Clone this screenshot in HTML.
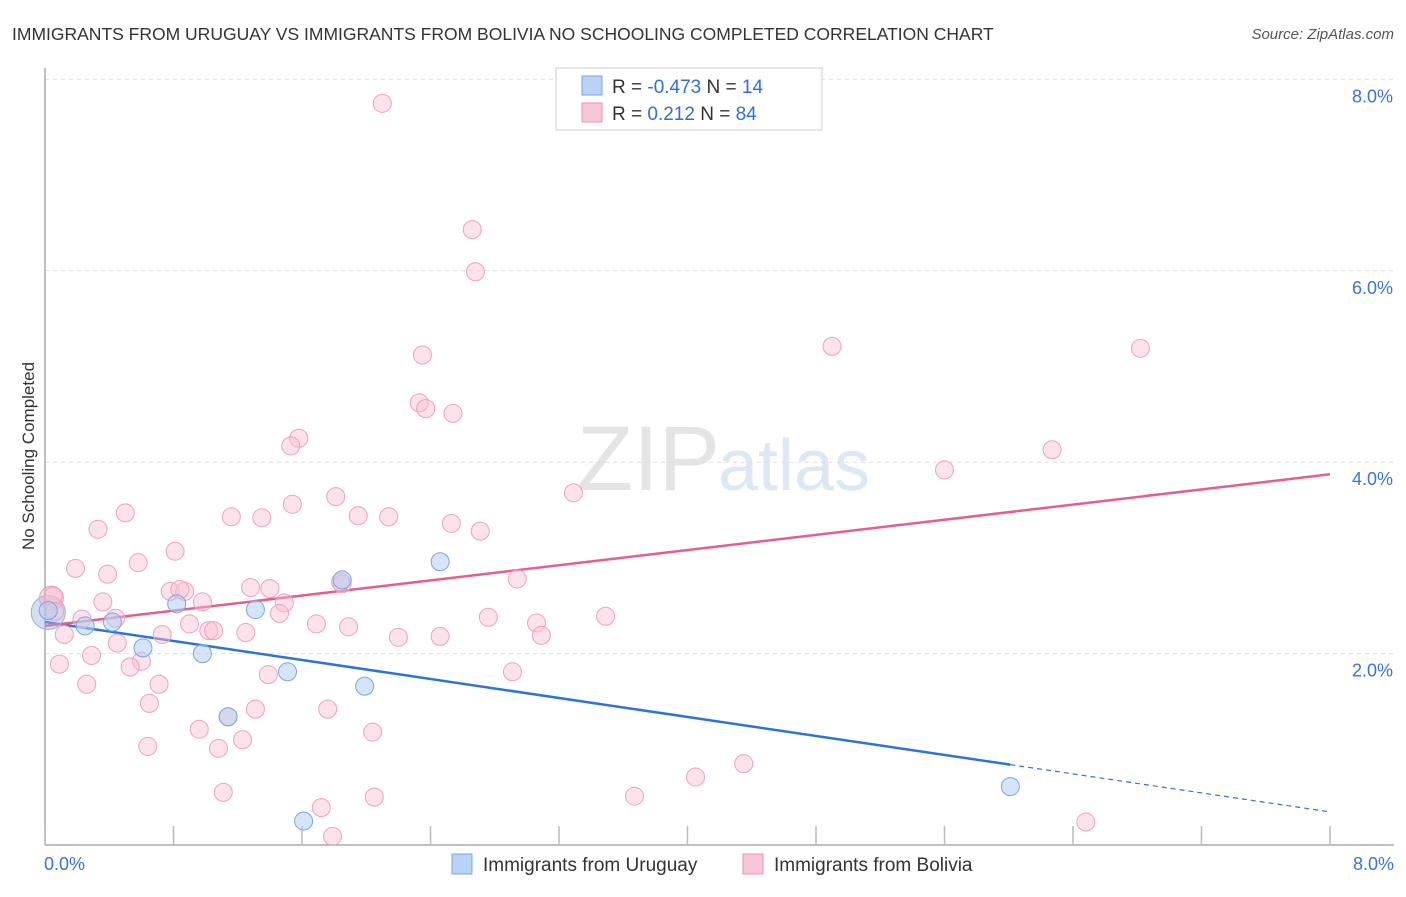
<!DOCTYPE html>
<html><head><meta charset="utf-8"><style>
body{margin:0;background:#fff;font-family:"Liberation Sans",sans-serif;}
svg text{font-family:"Liberation Sans",sans-serif;}
</style></head><body>
<svg width="1406" height="892" xmlns="http://www.w3.org/2000/svg">
<text x="12" y="40" font-size="17.5" fill="#333">IMMIGRANTS FROM URUGUAY VS IMMIGRANTS FROM BOLIVIA NO SCHOOLING COMPLETED CORRELATION CHART</text>
<text x="1394" y="39" font-size="15" fill="#555" font-style="italic" text-anchor="end">Source: ZipAtlas.com</text>
<text x="720" y="490" font-size="92" fill="#e4e4e4" text-anchor="end" font-family="Liberation Serif">ZIP</text>
<text x="718" y="490" font-size="72" fill="#dde8f6">atlas</text>
<g id="grid"></g>
<g id="axes"></g>
<text transform="translate(34,456) rotate(-90)" font-size="17" fill="#333" text-anchor="middle">No Schooling Completed</text>
<g id="lines"></g>
<g id="pts"></g>
<g>
<rect x="556" y="68" width="266" height="62" fill="#fff" stroke="#ccc"/>
<rect x="582" y="76" width="20" height="19" fill="#b9d3f5" stroke="#7aa6e0"/>
<rect x="582" y="103" width="20" height="19" fill="#f8c6d5" stroke="#e993b0"/>
<text x="612" y="93" font-size="19" fill="#333">R = <tspan fill="#2f6fd6">-0.473</tspan>   N = <tspan fill="#2f6fd6"> 14</tspan></text>
<text x="612" y="120" font-size="19" fill="#333">R =   <tspan fill="#2f6fd6">0.212</tspan>   N = <tspan fill="#2f6fd6">84</tspan></text>
</g>
<g>
<rect x="452" y="854" width="20" height="20" fill="#b9d3f5" stroke="#7aa6e0"/>
<text x="483" y="871" font-size="19" fill="#333">Immigrants from Uruguay</text>
<rect x="743" y="854" width="20" height="20" fill="#f8c6d5" stroke="#e993b0"/>
<text x="774" y="871" font-size="19" fill="#333">Immigrants from Bolivia</text>
</g>
</svg>
<script>
const yTicks=[2,4,6,8];
const yTickLabels=["2.0%","4.0%","6.0%","8.0%"];
const xTickVals=[0,0.8,1.6,2.4,3.2,4,4.8,5.6,6.4,7.2,8];
const uruguayX=[0.02,0.42,0.25,0.82,1.31,1.85,2.46,0.61,0.98,1.51,1.99,1.14,6.01,1.61];
const uruguayY=[2.45,2.33,2.29,2.52,2.46,2.77,2.96,2.06,2.0,1.81,1.66,1.34,0.61,0.25];
const boliviaX=[2.1,2.66,2.68,4.9,6.82,2.35,2.33,2.37,2.54,1.58,1.53,5.6,6.27,1.81,3.29,1.54,0.5,1.16,1.35,1.95,2.14,0.33,2.53,2.71,0.81,0.58,0.19,0.39,0.05,1.28,1.4,0.78,0.87,0.84,0.98,0.36,1.85,2.94,1.49,0.44,0.23,1.46,2.76,3.49,1.69,3.06,0.9,1.89,1.02,1.05,0.12,0.73,1.25,2.2,2.46,3.09,0.45,0.29,0.6,0.53,0.09,1.39,2.91,0.26,0.71,0.65,1.76,1.31,0.96,2.04,1.23,0.64,1.08,4.05,4.35,1.11,2.05,3.67,1.72,6.48,1.79,1.14,0.06,1.84];
const boliviaY=[7.75,6.43,5.99,5.21,5.19,5.12,4.62,4.56,4.51,4.25,4.17,3.92,4.13,3.64,3.68,3.56,3.47,3.43,3.42,3.44,3.43,3.3,3.36,3.28,3.07,2.95,2.89,2.83,2.6,2.69,2.68,2.65,2.65,2.67,2.54,2.54,2.73,2.78,2.53,2.37,2.36,2.42,2.38,2.39,2.31,2.32,2.31,2.28,2.24,2.24,2.2,2.2,2.22,2.17,2.18,2.19,2.11,1.98,1.92,1.86,1.89,1.78,1.81,1.68,1.68,1.48,1.42,1.42,1.21,1.18,1.1,1.03,1.01,0.71,0.85,0.55,0.5,0.51,0.39,0.24,0.09,1.34,2.44,2.75];
const bigX=[0.02,0.04];
const bigY=[2.43,2.58];
const blueFit=[2.33,-0.248];
const pinkFit=[2.29,0.198];
const X0=45,X1=1330,Y0=845,YS=95.7;
const sx=v=>X0+(X1-X0)*v/8;
const sy=v=>Y0-v*YS;
const NS="http://www.w3.org/2000/svg";
function mk(tag,attrs,parent){const e=document.createElementNS(NS,tag);for(const k in attrs)e.setAttribute(k,attrs[k]);parent.appendChild(e);return e;}
const grid=document.getElementById('grid'),axes=document.getElementById('axes');
yTicks.forEach((t,i)=>{
  const l=mk('line',{x1:X0,x2:1394,y1:sy(t),y2:sy(t),stroke:'#ddd','stroke-dasharray':'4,4'},grid);
  
  
  const tx=mk('text',{x:1393,y:sy(t)+23,'font-size':18,fill:'#3a74d4','text-anchor':'end'},axes);
  tx.textContent=yTickLabels[i];
  
  
});
const ax=mk('line',{x1:X0,x2:X0,y1:68,y2:Y0,stroke:'#aaa','stroke-width':1.5},axes);


const bx=mk('line',{x1:X0,x2:1394,y1:Y0,y2:Y0,stroke:'#aaa','stroke-width':1.5},axes);


xTickVals.forEach(v=>{
  const t=mk('line',{x1:sx(v),x2:sx(v),y1:Y0,y2:Y0-19,stroke:'#bbb','stroke-width':1.5},axes);
  
  
});
[[0,"0.0%","start",44],[8,"8.0%","end",1394]].forEach(a=>{
  const t=mk('text',{x:a[3],y:870,'font-size':18,fill:'#3a74d4','text-anchor':a[2]},axes);
  t.textContent=a[1];
  
  
});
const pts=document.getElementById('pts');
for(let i=0;i<bigX.length;i++){
  const c=mk('circle',{cx:sx(bigX[i]),cy:sy(bigY[i]),r:i==0?17:12,fill:i==0?'rgba(160,180,230,0.45)':'rgba(245,170,195,0.45)',stroke:i==0?'#8fb0e6':'#eaa0b9'},pts);
  
  
}
boliviaX.forEach((x,i)=>{
  const c=mk('circle',{cx:sx(x),cy:sy(boliviaY[i]),r:9,fill:'rgba(248,190,210,0.45)',stroke:'#eba2bc'},pts);
  
  
});
uruguayX.forEach((x,i)=>{
  const c=mk('circle',{cx:sx(x),cy:sy(uruguayY[i]),r:9,fill:'rgba(180,205,242,0.55)',stroke:'#7aa6e0'},pts);
  
  
});
const lines=document.getElementById('lines');
const bEnd=6.01;
let l1=mk('line',{x1:sx(0),y1:sy(blueFit[0]),x2:sx(bEnd),y2:sy(blueFit[0]+blueFit[1]*bEnd),stroke:'#2f72d8','stroke-width':2.5},lines);


let l2=mk('line',{x1:sx(bEnd),y1:sy(blueFit[0]+blueFit[1]*bEnd),x2:sx(8),y2:sy(blueFit[0]+blueFit[1]*8),stroke:'#2f72d8','stroke-width':1.2,'stroke-dasharray':'5,4'},lines);


let l3=mk('line',{x1:sx(0),y1:sy(pinkFit[0]),x2:sx(8),y2:sy(pinkFit[0]+pinkFit[1]*8),stroke:'#e4608a','stroke-width':2.5},lines);


</script>
</body></html>
